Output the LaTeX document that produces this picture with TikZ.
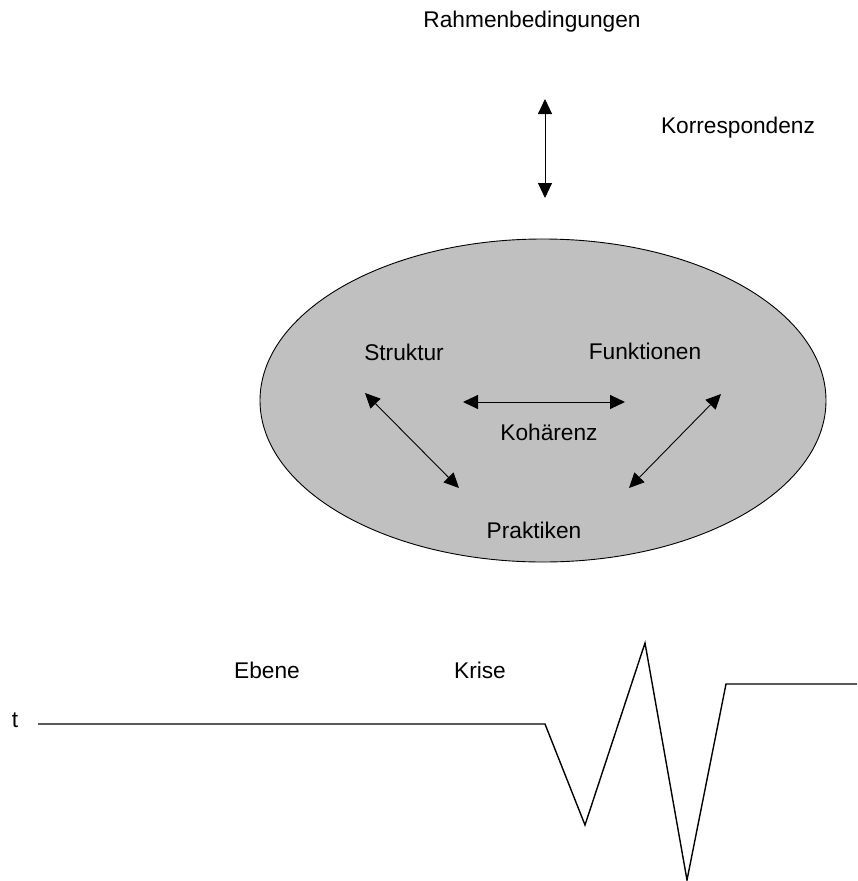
\documentclass[tikz,border=0pt]{standalone}
\usepackage{fontspec}
\setmainfont{Liberation Sans}
\usetikzlibrary{arrows.meta,shapes.geometric}
\definecolor{fillgray}{RGB}{192,192,192}
\begin{document}
\begin{tikzpicture}[x=1pt,y=-1pt,
  lbl/.style={inner sep=0pt,font=\fontsize{22.7}{26}\selectfont},
  dbl/.style={{Triangle[length=15pt,width=14pt]}-{Triangle[length=15pt,width=14pt]},line width=0.9pt},
  wave/.style={line width=1.4pt,line join=miter}]
\useasboundingbox (0,0) rectangle (857,881);
% ellipse
\node (ell) [ellipse,draw=black,line width=0.9pt,fill=fillgray,minimum width=566pt,minimum height=323pt,inner sep=0pt] at (543,400.5) {};
% labels
\node (rahmen) [lbl] at (532,22) {Rahmenbedingungen};
\node (korr) [lbl] at (738,128) {Korrespondenz};
\node (struktur) [lbl] at (404,352) {Struktur};
\node (funkt) [lbl] at (645,351) {Funktionen};
\node (koh) [lbl] at (549,432) {Kohärenz};
\node (prakt) [lbl] at (534,530) {Praktiken};
\node (ebene) [lbl] at (267,670) {Ebene};
\node (krise) [lbl] at (480,670) {Krise};
\node (t) [lbl] at (15,720) {t};
% arrow end coordinates
\coordinate (vtop) at (545,99);
\coordinate (vbot) at (545,198);
\coordinate (hl) at (463,402);
\coordinate (hr) at (625,402);
\coordinate (dl1) at (365,393);
\coordinate (dl2) at (459,488);
\coordinate (dr1) at (721,394);
\coordinate (dr2) at (629,488);
\draw[dbl] (vtop) -- (vbot);
\draw[dbl] (hl) -- (hr);
\draw[dbl] (dl1) -- (dl2);
\draw[dbl] (dr1) -- (dr2);
% time line
\coordinate (w0) at (38,724);
\coordinate (w1) at (545,724);
\coordinate (w2) at (585,825);
\coordinate (w3) at (645,643);
\coordinate (w4) at (687,880);
\coordinate (w5) at (726,684);
\coordinate (w6) at (857,684);
\draw[wave] (w0) -- (w1) -- (w2) -- (w3) -- (w4) -- (w5) -- (w6);
\end{tikzpicture}
\end{document}
